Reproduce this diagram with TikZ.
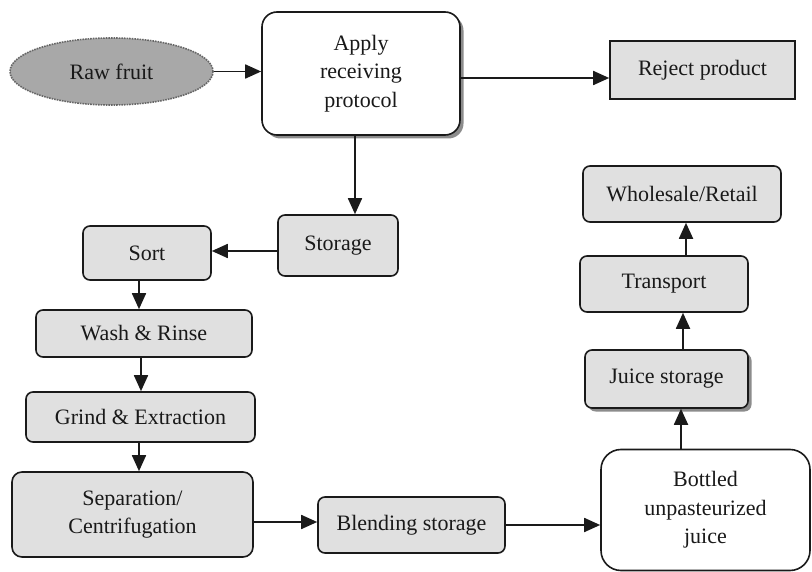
\documentclass[tikz,border=0pt]{standalone}
\usepackage{fontspec}
\setmainfont{Liberation Serif}
\usetikzlibrary{shapes.geometric,arrows.meta,shadows}
\definecolor{boxgray}{HTML}{E0E0E0}
\definecolor{ovalgray}{HTML}{A8A8A8}
\definecolor{edge}{HTML}{1A1A1A}
\tikzset{
  base/.style={draw=edge,line width=1.6pt,align=center,inner sep=0pt,
    font=\fontsize{22}{28.5}\selectfont,text=black!90},
  gbox/.style={base,fill=boxgray,rounded corners=7pt},
  wbox/.style={base,fill=white,rounded corners=15pt},
  shad/.style={drop shadow={shadow xshift=3.5pt,shadow yshift=-3.5pt,fill=black!45,opacity=1}},
  arr/.style={draw=edge,line width=1.8pt,-{Triangle[length=16pt,width=14pt]}}
}
\begin{document}
\begin{tikzpicture}[x=1pt,y=-1pt]
\useasboundingbox[fill=white] (0,0) rectangle (812,572);
\node[base,ellipse,fill=ovalgray,draw=black!60,densely dotted,minimum width=203pt,minimum height=67pt] (raw) at (111.5,71.5) {Raw fruit};
\node[wbox,shad,minimum width=198pt,minimum height=123pt] (apply) at (361,73.5) {Apply\\receiving\\protocol};
\node[base,fill=boxgray,minimum width=185pt,minimum height=58pt] (reject) at (702.5,70) {Reject product};
\node[gbox,minimum width=120pt,minimum height=61pt] (storage) at (338,245.5) {Storage};
\node[gbox,minimum width=128pt,minimum height=54pt] (sort) at (147,253) {Sort};
\node[gbox,minimum width=216pt,minimum height=47pt] (wash) at (144,333.5) {Wash \& Rinse};
\node[gbox,minimum width=229pt,minimum height=50pt] (grind) at (140.5,417) {Grind \& Extraction};
\node[gbox,rounded corners=10pt,minimum width=241pt,minimum height=85pt] (sep) at (132.5,514.5) {Separation/\\Centrifugation};
\node[gbox,minimum width=187pt,minimum height=56pt] (blend) at (411.5,525) {Blending storage};
\node[wbox,rounded corners=20pt,minimum width=209pt,minimum height=121pt] (bottled) at (705.5,510) {Bottled\\unpasteurized\\juice};
\node[gbox,shad,minimum width=163pt,minimum height=58pt] (juice) at (666.5,379) {Juice storage};
\node[gbox,minimum width=168pt,minimum height=56pt] (transport) at (664,284) {Transport};
\node[gbox,minimum width=198pt,minimum height=56pt] (whole) at (682,194) {Wholesale/Retail};

\draw[arr] (raw.east) -- (raw.east -| apply.west);
\draw[arr] ([yshift=-4.5pt]apply.east) -- ([yshift=-4.5pt]apply.east -| reject.west);
\draw[arr] ([xshift=-6pt]apply.south) -- ([xshift=-6pt]apply.south |- storage.north);
\draw[arr] ([yshift=-5.5pt]storage.west) -- ([yshift=-5.5pt]storage.west -| sort.east);
\draw[arr] ([xshift=-8pt]sort.south) -- ([xshift=-8pt]sort.south |- wash.north);
\draw[arr] ([xshift=-3pt]wash.south) -- ([xshift=-3pt]wash.south |- grind.north);
\draw[arr] ([xshift=-1.5pt]grind.south) -- ([xshift=-1.5pt]grind.south |- sep.north);
\draw[arr] ([yshift=-7.5pt]sep.east) -- ([yshift=-7.5pt]sep.east -| blend.west);
\draw[arr] (blend.east) -- (blend.east -| bottled.west);
\draw[arr] ([xshift=-24.5pt]bottled.north) -- ([xshift=-24.5pt]bottled.north |- juice.south);
\draw[arr] ([xshift=16.5pt]juice.north) -- ([xshift=16.5pt]juice.north |- transport.south);
\draw[arr] ([xshift=22pt]transport.north) -- ([xshift=22pt]transport.north |- whole.south);
\end{tikzpicture}
\end{document}
